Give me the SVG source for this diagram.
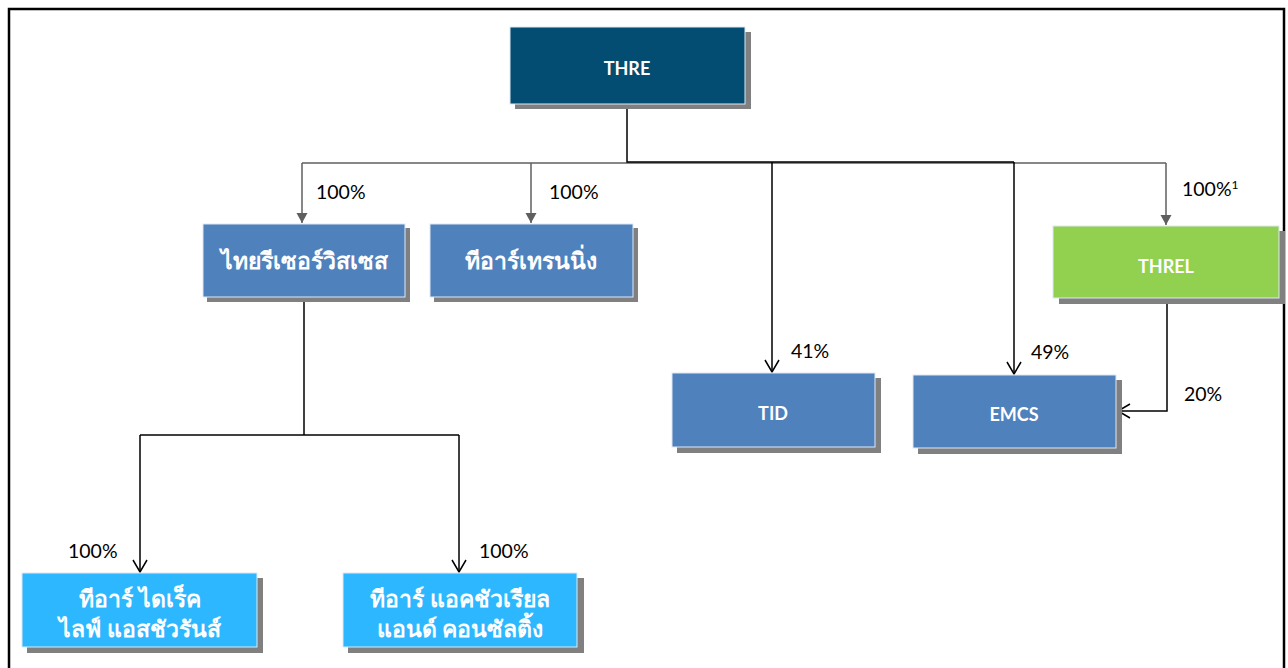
<svg xmlns="http://www.w3.org/2000/svg" width="1288" height="668" viewBox="0 0 1288 668">
<style>
.sh{fill:#808080}
.bx{stroke:#dfe8f3;stroke-width:1}
.t{font-family:Lato,"Noto Sans",sans-serif;font-weight:bold;fill:#fff;text-anchor:middle}
.en{font-size:18px}
.th{font-size:23px}
.lb{font-family:Lato,"Noto Sans",sans-serif;font-size:19.5px;fill:#000}
.g{stroke:#5f5f5f;stroke-width:1.5;fill:none}
.k{stroke:#000;stroke-width:1.5;fill:none}
</style>
<defs>
<marker id="tri" markerWidth="12" markerHeight="12" refX="10" refY="5.5" orient="auto" markerUnits="userSpaceOnUse" viewBox="0 0 12 12">
<path d="M0,0 L10,5.5 L0,11 z" fill="#5f5f5f"/>
</marker>
<marker id="open" markerWidth="18" markerHeight="18" refX="13" refY="8" orient="auto" markerUnits="userSpaceOnUse" viewBox="0 0 18 16">
<path d="M1,1 L13,8 L1,15" fill="none" stroke="#000" stroke-width="1.5"/>
</marker>
</defs>
<rect x="9" y="9" width="1275" height="680" fill="none" stroke="#000" stroke-width="2.5"/>
<g id="connectors">
<path class="g" d="M302,163 H1166"/>
<path class="g" d="M302,163 V223" marker-end="url(#tri)"/>
<path class="g" d="M531,163 V223" marker-end="url(#tri)"/>
<path class="g" d="M1166,163 V225" marker-end="url(#tri)"/>
<path class="k" d="M627,104 V162 H1014" stroke-width="2.2"/>
<path class="k" d="M772,162 V372" marker-end="url(#open)"/>
<path class="k" d="M1014,162 V374" marker-end="url(#open)"/>
<path class="k" d="M1167,298 V411 H1118" marker-end="url(#open)"/>
<path class="k" d="M304,297 V435"/>
<path class="k" d="M140,435 H459"/>
<path class="k" d="M140,435 V572" marker-end="url(#open)"/>
<path class="k" d="M459,435 V572" marker-end="url(#open)"/>
<text class="lb" x="316" y="199">100%</text>
<text class="lb" x="549" y="199">100%</text>
<text class="lb" x="1182" y="196">100%<tspan font-size="12" dy="-7">1</tspan></text>
<text class="lb" x="791" y="358">41%</text>
<text class="lb" x="1031" y="359">49%</text>
<text class="lb" x="1184" y="401">20%</text>
<text class="lb" x="68" y="558">100%</text>
<text class="lb" x="479" y="558">100%</text>
</g>
<g id="n-thre">
<rect class="sh" x="515" y="32" width="236" height="77"/>
<rect class="bx" x="510" y="27" width="235" height="77" fill="#034c72"/>
<text class="t en" x="627" y="75">THRE</text>
</g>
<g id="n-trs">
<rect class="sh" x="207" y="228" width="203" height="74"/>
<rect class="bx" x="203" y="224" width="202" height="73" fill="#4f81bd"/>
<text class="t th" x="304" y="269">ไทยรีเซอร์วิสเซส</text>
</g>
<g id="n-trt">
<rect class="sh" x="434" y="228" width="204" height="74"/>
<rect class="bx" x="430" y="224" width="203" height="73" fill="#4f81bd"/>
<text class="t th" x="531" y="269">ทีอาร์เทรนนิ่ง</text>
</g>
<g id="n-threl">
<rect class="sh" x="1059" y="231" width="226" height="73"/>
<rect class="bx" x="1053" y="226" width="226" height="72" fill="#92d050"/>
<text class="t en" x="1166" y="273">THREL</text>
</g>
<g id="n-tid">
<rect class="sh" x="677" y="378" width="204" height="75"/>
<rect class="bx" x="672" y="373" width="203" height="74" fill="#4f81bd"/>
<text class="t en" x="773" y="420">TID</text>
</g>
<g id="n-emcs">
<rect class="sh" x="918" y="380" width="204" height="74"/>
<rect class="bx" x="913" y="375" width="203" height="73" fill="#4f81bd"/>
<text class="t en" x="1014" y="421">EMCS</text>
</g>
<g id="n-trdl">
<rect class="sh" x="27" y="578" width="236" height="75"/>
<rect class="bx" x="22" y="573" width="235" height="74" fill="#2db7ff"/>
<text class="t th" x="140" y="607">ทีอาร์ ไดเร็ค</text>
<text class="t th" x="140" y="637">ไลฟ์ แอสชัวรันส์</text>
</g>
<g id="n-trac">
<rect class="sh" x="348" y="578" width="236" height="75"/>
<rect class="bx" x="343" y="573" width="234" height="74" fill="#2db7ff"/>
<text class="t th" x="460" y="607">ทีอาร์ แอคชัวเรียล</text>
<text class="t th" x="460" y="637">แอนด์ คอนซัลติ้ง</text>
</g>
</svg>
